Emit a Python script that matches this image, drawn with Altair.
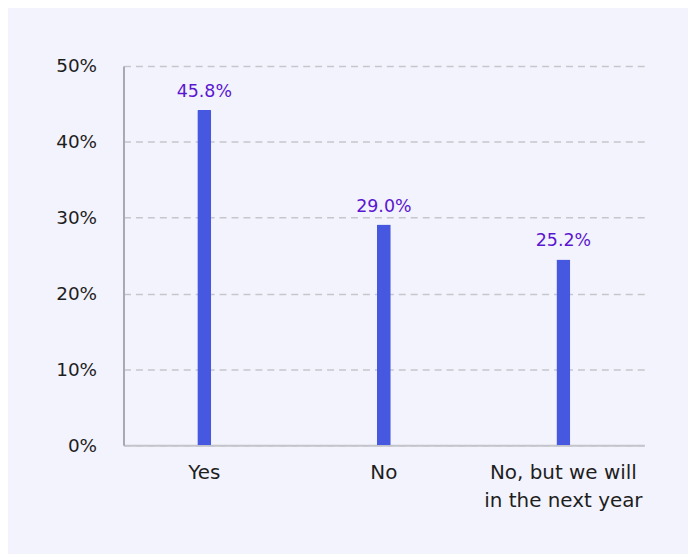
import altair as alt
import pandas as pd

categories = ["Yes", "No", "No, but we will in the next year"]
bar_values = [44.2, 29.1, 24.5]
label_texts = ["45.8%", "29.0%", "25.2%"]
y_ticks = [0, 10, 20, 30, 40, 50]

df = pd.DataFrame({"cat": categories, "val": bar_values, "lbl": label_texts})

FONT = "DejaVu Sans"

x = alt.X(
    "cat:N",
    sort=categories,
    title=None,
    scale=alt.Scale(paddingInner=0.1, paddingOuter=0),
    axis=alt.Axis(
        labelAngle=0,
        labelExpr="datum.label == 'No, but we will in the next year' ? ['No, but we will', 'in the next year'] : datum.label",
        labelFont=FONT,
        labelFontSize=20,
        labelColor="#1e1e1e",
        labelPadding=17,
        labelLineHeight=28,
        ticks=False,
        domainColor="#c4c4cc",
        domainWidth=2,
        grid=False,
    ),
)

y = alt.Y(
    "val:Q",
    title=None,
    scale=alt.Scale(domain=[0, 50], nice=False),
    axis=alt.Axis(
        values=y_ticks,
        labelExpr="datum.value + '%'",
        labelFont=FONT,
        labelFontSize=18.5,
        labelColor="#1e1e1e",
        labelPadding=27,
        ticks=False,
        domainColor="#a8a8b2",
        domainWidth=2,
        grid=True,
        gridColor="#c6c6cc",
        gridDash=[7, 5],
        gridWidth=1.5,
    ),
)

bars = alt.Chart(df).mark_bar(size=14, color="#4657E0", cornerRadiusTopLeft=1, cornerRadiusTopRight=1).encode(x=x, y=y)

labels = alt.Chart(df).mark_text(
    font=FONT, fontSize=17.5, color="#5b17cf", baseline="alphabetic", align="center", dy=-13
).encode(x=alt.X("cat:N", sort=categories), y="val:Q", text="lbl:N")

chart = (
    alt.layer(bars, labels)
    .properties(
        width=523,
        height=381,
        autosize=alt.AutoSizeParams(type="none"),
        padding={"left": 116, "top": 57, "right": 44, "bottom": 108},
    )
    .configure(background="#f3f3fd")
    .configure_view(stroke=None)
)

chart.save("out.html", embed_options={"renderer": "svg", "actions": False})
